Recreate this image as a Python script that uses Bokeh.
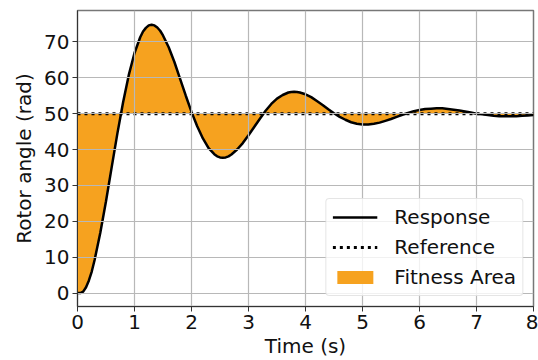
from bokeh.plotting import figure
from bokeh.models import Range1d, Legend, LegendItem, FixedTicker
from bokeh.embed import file_html
from bokeh.resources import INLINE

# ---- data ----
time_s = [
    0.0, 0.05, 0.1, 0.15, 0.2, 0.25, 0.3, 0.4, 0.5, 0.6, 0.7, 0.8, 0.9,
    1.0, 1.1, 1.15, 1.2, 1.25, 1.3, 1.35, 1.4, 1.45, 1.5, 1.6, 1.7, 1.8, 1.9,
    2.0, 2.1, 2.2, 2.3, 2.4, 2.45, 2.5, 2.55, 2.6, 2.65, 2.7, 2.8, 2.9,
    3.0, 3.1, 3.2, 3.3, 3.4, 3.5, 3.6, 3.7, 3.75, 3.8, 3.85, 3.9,
    4.0, 4.1, 4.2, 4.3, 4.4, 4.5, 4.6, 4.7, 4.8, 4.9,
    5.0, 5.1, 5.2, 5.3, 5.4, 5.5, 5.6, 5.7, 5.8, 5.9,
    6.0, 6.1, 6.2, 6.3, 6.4, 6.5, 6.6, 6.7, 6.8, 6.9,
    7.0, 7.1, 7.2, 7.3, 7.4, 7.5, 7.6, 7.7, 7.8, 7.9, 8.0,
]
response = [
    0.0, 0.0, 0.4, 1.6, 3.5, 6.0, 9.2, 16.8, 25.6, 35.1, 44.5, 53.2, 60.8,
    66.9, 71.3, 72.9, 73.9, 74.6, 74.8, 74.6, 74.0, 73.1, 71.8, 68.5, 64.4, 59.7, 55.0,
    50.5, 46.5, 43.1, 40.4, 38.7, 38.1, 37.8, 37.7, 37.8, 38.1, 38.6, 40.0, 41.8,
    44.0, 46.3, 48.6, 50.8, 52.7, 54.2, 55.2, 55.9, 56.05, 56.1, 56.05, 55.9,
    55.4, 54.6, 53.5, 52.4, 51.2, 50.1, 49.1, 48.3, 47.6, 47.2,
    47.0, 47.0, 47.2, 47.5, 48.0, 48.5, 49.1, 49.7, 50.2, 50.7,
    51.0, 51.3, 51.4, 51.5, 51.5, 51.3, 51.1, 50.9, 50.6, 50.3,
    50.0, 49.8, 49.6, 49.4, 49.3, 49.3, 49.3, 49.3, 49.4, 49.5, 49.6,
]
reference_value = 50.0
reference = [reference_value] * len(time_s)
x_ticks = [0, 1, 2, 3, 4, 5, 6, 7, 8]
y_ticks = [0, 10, 20, 30, 40, 50, 60, 70]

FONT = "DejaVu Sans"
FS = "20px"
ORANGE = "#f6a21f"

p = figure(width=538, height=360, output_backend="svg", toolbar_location=None,
           x_range=Range1d(0, 8), y_range=Range1d(-3.75, 78.75),
           min_border_left=77, min_border_right=5, min_border_top=10, min_border_bottom=40)

p.background_fill_color = "white"
p.border_fill_color = "white"
p.outline_line_color = "#777777"
p.outline_line_width = 1.5

fill_r = p.varea(x=time_s, y1=response, y2=reference, fill_color=ORANGE, level="underlay")
ref_r = p.line(time_s, reference, line_color="black", line_width=3, line_dash="3 4")
resp_r = p.line(time_s, response, line_color="black", line_width=2.5)

for g in (p.xgrid, p.ygrid):
    g.grid_line_color = "#b8b8b8"
    g.grid_line_width = 1.2
    g.level = "glyph"

p.xaxis.ticker = FixedTicker(ticks=x_ticks)
p.yaxis.ticker = FixedTicker(ticks=y_ticks)
for ax in (p.xaxis, p.yaxis):
    ax.major_label_text_font = FONT
    ax.major_label_text_font_size = FS
    ax.major_label_text_color = "#111111"
    ax.axis_label_text_font = FONT
    ax.axis_label_text_font_size = FS
    ax.axis_label_text_font_style = "normal"
    ax.axis_label_text_color = "#111111"
    ax.major_tick_out = 5
    ax.major_tick_in = 0
    ax.minor_tick_line_color = None
    ax.axis_line_color = "#333333"
    ax.major_tick_line_color = "#333333"
    ax.major_label_standoff = 3
p.xaxis.axis_label = "Time (s)"
p.yaxis.axis_label = "Rotor angle (rad)"
p.xaxis.axis_label_standoff = 2
p.yaxis.axis_label_standoff = 5

legend = Legend(items=[
    LegendItem(label="Response", renderers=[resp_r]),
    LegendItem(label="Reference", renderers=[ref_r]),
    LegendItem(label="Fitness Area", renderers=[fill_r]),
], location="bottom_right")
legend.label_text_font = FONT
legend.label_text_font_size = FS
legend.label_text_color = "#111111"
legend.glyph_width = 45
legend.glyph_height = 16
legend.label_height = 20
legend.label_standoff = 17
legend.spacing = 6
legend.padding = 6
legend.margin = 10
legend.border_line_color = "#cccccc"
legend.border_line_width = 1
legend.background_fill_alpha = 0.8
legend.border_radius = 4
p.add_layout(legend)

open("out.html", "w").write(file_html(p, INLINE))
